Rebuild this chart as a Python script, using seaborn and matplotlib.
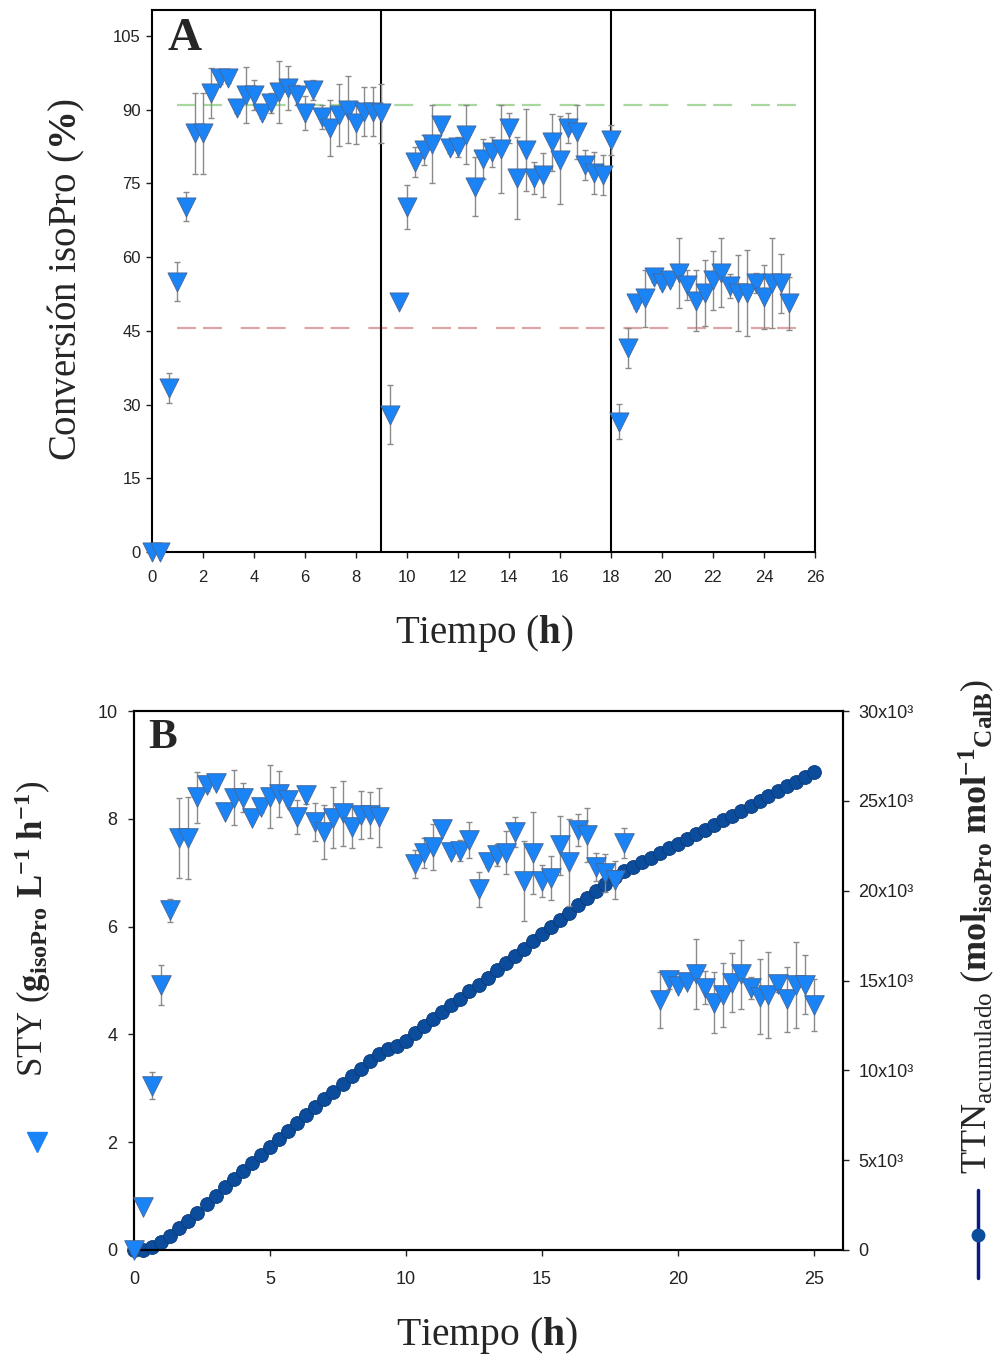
import numpy as np
import pandas as pd
import matplotlib
matplotlib.use("Agg")
import matplotlib.pyplot as plt
import seaborn as sns
from matplotlib.lines import Line2D
from matplotlib.ticker import FixedLocator, FixedFormatter

# ---------------- Panel A data: conversion (%) ----------------
tA1 = [0, 0.33, 0.67, 1, 1.33, 1.67, 2, 2.33, 2.67, 3, 3.33, 3.67, 4, 4.33,
       4.67, 5, 5.33, 5.67, 6, 6.33, 6.67, 7, 7.33, 7.67, 8, 8.33, 8.67, 9]
convA1 = [0, 0, 33.4, 55, 70.3, 85.2, 85.2, 93.4, 96.4, 96.4, 90.3, 93.0, 93.0, 89.3,
          91.4, 93.6, 94.4, 93.0, 89.3, 94.0, 88.5, 86.3, 88.9, 90.0, 87.3, 89.6, 89.6, 89.3]
errA1 = [0, 0, 3, 4, 3, 8.3, 8.3, 5, 1.2, 1, 1, 5.6, 3, 1,
         2, 6.3, 4.5, 2, 3.5, 2, 2.5, 5.7, 6.3, 6.8, 4.3, 5, 5, 6]

tA2 = [9.33, 9.67, 10, 10.33, 10.67, 11, 11.33, 11.67, 12, 12.33, 12.67, 13, 13.33,
       13.67, 14, 14.33, 14.67, 15, 15.33, 15.67, 16, 16.33, 16.67, 17, 17.33, 17.67, 18]
convA2 = [27.9, 50.9, 70.2, 79.4, 81.8, 83.0, 86.9, 82.2, 82.4, 84.9, 74.3, 80.0, 81.4,
          82.0, 86.3, 76.1, 81.8, 76.1, 76.7, 83.4, 79.8, 86.3, 85.5, 78.8, 77.1, 76.7, 83.8]
errA2 = [6, 0.8, 4.5, 3, 3, 8, 1, 1, 2, 6, 6, 4, 3,
         9, 3, 8.3, 8.4, 3.2, 4.4, 5.8, 9, 3, 5.5, 3, 4.3, 4, 3]

tA3 = [18.33, 18.67, 19, 19.33, 19.67, 20, 20.33, 20.67, 21, 21.33, 21.67, 22, 22.33,
       22.67, 23, 23.33, 23.67, 24, 24.33, 24.67, 25]
convA3 = [26.5, 41.5, 50.6, 51.6, 56.0, 54.7, 55.3, 56.8, 54.3, 51.1, 52.7, 55.3, 56.8,
          54.1, 52.7, 52.7, 54.7, 51.9, 54.7, 54.7, 50.6]
errA3 = [3.6, 4, 1, 5.8, 1, 1, 1, 7.2, 3, 6.2, 6.8, 6, 7,
         2.5, 7.7, 8.8, 2, 6.6, 9.2, 6, 5.4]

ref_high = 91.0
ref_low = 45.5
cycle_changes = [9, 18]

# ---------------- Panel B data: STY and TTN ----------------
tB1 = tA1
styB1 = [0, 0.8, 3.05, 4.92, 6.3, 7.64, 7.64, 8.4, 8.62, 8.66, 8.13, 8.39, 8.39, 8.02,
         8.22, 8.41, 8.46, 8.35, 8.03, 8.44, 7.94, 7.76, 8.02, 8.1, 7.85, 8.07, 8.07, 8.03]
errB1 = [0, 0, 0.25, 0.37, 0.22, 0.74, 0.76, 0.47, 0.1, 0.08, 0.08, 0.51, 0.27, 0.08,
         0.1, 0.58, 0.42, 0.1, 0.32, 0.16, 0.36, 0.5, 0.57, 0.61, 0.39, 0.45, 0.43, 0.55]

tB2 = [10.33, 10.67, 11, 11.33, 11.67, 12, 12.33, 12.67, 13, 13.33, 13.67, 14,
       14.33, 14.67, 15, 15.33, 15.67, 16, 16.33, 16.67, 17, 17.33, 17.67, 18]
styB2 = [7.17, 7.36, 7.48, 7.82, 7.39, 7.41, 7.61, 6.69, 7.19, 7.33, 7.37, 7.76,
         6.85, 7.37, 6.84, 6.9, 7.51, 7.19, 7.79, 7.7, 7.11, 6.99, 6.86, 7.55]
errB2 = [0.26, 0.28, 0.43, 0.08, 0.08, 0.2, 0.33, 0.33, 0.08, 0.2, 0.4, 0.28,
         0.74, 0.76, 0.3, 0.41, 0.55, 0.8, 0.3, 0.5, 0.26, 0.35, 0.35, 0.28]

tB3 = [19.33, 19.67, 20, 20.33, 20.67, 21, 21.33, 21.67, 22, 22.33, 22.67, 23,
       23.33, 23.67, 24, 24.33, 24.67, 25]
styB3 = [4.64, 5.01, 4.9, 4.98, 5.12, 4.87, 4.59, 4.73, 4.96, 5.12, 4.86, 4.7,
         4.73, 4.94, 4.65, 4.92, 4.92, 4.55]
errB3 = [0.52, 0.17, 0.1, 0.1, 0.65, 0.3, 0.56, 0.6, 0.55, 0.64, 0.2, 0.7,
         0.8, 0.15, 0.6, 0.8, 0.55, 0.48]

tTTN = tA1 + tA2 + tA3
ttn = [0, 0, 150, 420, 780, 1200, 1620, 2070, 2550, 3030, 3480, 3930, 4380, 4830,
       5280, 5730, 6180, 6630, 7080, 7530, 7980, 8400, 8820, 9240, 9660, 10080, 10500, 10920,
       11160, 11340, 11640, 12090, 12480, 12870, 13230, 13620, 13980, 14400, 14760, 15150,
       15570, 15960, 16380, 16770, 17190, 17580, 17970, 18390, 18780, 19200, 19590, 19980,
       20370, 20760, 21120, 21330, 21570, 21810, 22080, 22350, 22620, 22890, 23160, 23400,
       23670, 23910, 24180, 24450, 24720, 24990, 25260, 25530, 25800, 26070, 26340, 26610]

ttn_ticks = [0, 5000, 10000, 15000, 20000, 25000, 30000]
ttn_ticklabels = ["0", "5x10³", "10x10³", "15x10³", "20x10³", "25x10³", "30x10³"]

# ---------------- Style ----------------
sns.set_theme(style="ticks")
plt.rcParams['font.family'] = ['Liberation Sans', 'DejaVu Sans']
plt.rcParams['mathtext.fontset'] = 'custom'
plt.rcParams['mathtext.rm'] = 'Liberation Serif'
plt.rcParams['mathtext.bf'] = 'Liberation Serif:bold'
plt.rcParams['mathtext.it'] = 'Liberation Serif:italic'
plt.rcParams['mathtext.sf'] = 'Liberation Serif'

BLUE = '#1a84f6'
EDGE = '#4a6590'
NAVY = '#0b4d9c'
EBAR = '#8a8a8a'
SERIF = ['Liberation Serif', 'DejaVu Serif']

W, H = 1003, 1357
fig = plt.figure(figsize=(W / 100, H / 100), dpi=100)
fig.patch.set_facecolor('white')


def fx(px):
    return px / W


def fy(py):
    return 1 - py / H


axA = fig.add_axes([fx(152), fy(552), fx(815) - fx(152), fy(10) - fy(552)])
axB = fig.add_axes([fx(134), fy(1250), fx(843) - fx(134), fy(711) - fy(1250)])

# ---------------- Panel A ----------------
dfA = pd.DataFrame({'Tiempo': tA1 + tA2 + tA3,
                    'Conv': convA1 + convA2 + convA3,
                    'err': errA1 + errA2 + errA3})

axA.hlines(ref_high, 1.0, 26, colors='#a8d8a0', lw=1.6,
           linestyles=(0, (8.5, 3.2, 8.5, 8.5)), zorder=1)
axA.hlines(ref_low, 1.0, 26, colors='#dba5a5', lw=1.6,
           linestyles=(0, (8.5, 3.2, 8.5, 8.5)), zorder=1)
for xc in cycle_changes:
    axA.axvline(xc, color='black', lw=1.5, zorder=1)

axA.errorbar(dfA['Tiempo'], dfA['Conv'], yerr=dfA['err'], fmt='none',
             ecolor=EBAR, elinewidth=1.0, capsize=2.5, capthick=1.0, zorder=2)
sns.scatterplot(data=dfA, x='Tiempo', y='Conv', marker='v', s=190, color=BLUE,
                edgecolor=EDGE, linewidth=0.6, ax=axA, zorder=3, clip_on=False,
                legend=False)

axA.set_xlim(0, 26)
axA.set_ylim(0, 110.3)
axA.set_xticks(np.arange(0, 27, 2))
axA.set_yticks(np.arange(0, 106, 15))
axA.set_xlabel('')
axA.set_ylabel('')
for s in axA.spines.values():
    s.set_linewidth(1.5)
    s.set_color('black')
axA.tick_params(direction='out', length=4, width=1, labelsize=12, colors='#222222', pad=4)
axA.tick_params(axis='x', pad=9)
axA.text(0.024, 0.985, 'A', transform=axA.transAxes, ha='left', va='top',
         fontsize=34, fontweight='bold', family=SERIF)

fig.text(fx(66), fy(279), r'Conversión isoPro ($\mathbf{\%}$)', rotation=90,
         ha='center', va='center', fontsize=28, family=SERIF)
fig.text(fx(484), fy(633), r'Tiempo ($\mathbf{h}$)', ha='center', va='center',
         fontsize=28, family=SERIF)

# ---------------- Panel B ----------------
dfB = pd.DataFrame({'Tiempo': tB1 + tB2 + tB3,
                    'STY': styB1 + styB2 + styB3,
                    'err': errB1 + errB2 + errB3})
dfT = pd.DataFrame({'Tiempo': tTTN, 'TTN': ttn})

axB2 = axB.twinx()
sns.lineplot(data=dfT, x='Tiempo', y='TTN', color=NAVY, lw=1.2, marker='o',
             markersize=10, markerfacecolor=NAVY, markeredgecolor='#0a3a78',
             markeredgewidth=0.6, ax=axB2, clip_on=False, zorder=2)
axB2.set_ylim(0, 30000)
axB2.yaxis.set_major_locator(FixedLocator(ttn_ticks))
axB2.yaxis.set_major_formatter(FixedFormatter(ttn_ticklabels))
axB2.set_ylabel('')

axB.set_zorder(axB2.get_zorder() + 1)
axB.patch.set_visible(False)
axB.errorbar(dfB['Tiempo'], dfB['STY'], yerr=dfB['err'], fmt='none',
             ecolor=EBAR, elinewidth=1.0, capsize=2.5, capthick=1.0, zorder=2)
sns.scatterplot(data=dfB, x='Tiempo', y='STY', marker='v', s=200, color=BLUE,
                edgecolor=EDGE, linewidth=0.6, ax=axB, zorder=3, clip_on=False,
                legend=False)

axB.set_xlim(0, 26.07)
axB.set_ylim(0, 10)
axB.set_xticks(np.arange(0, 26, 5))
axB.set_yticks(np.arange(0, 11, 2))
axB.set_xlabel('')
axB.set_ylabel('')
for ax in (axB, axB2):
    for s in ax.spines.values():
        s.set_linewidth(1.5)
        s.set_color('black')
axB.tick_params(direction='out', length=4, width=1, labelsize=13, colors='#222222', pad=8)
axB.tick_params(axis='x', pad=11)
axB2.tick_params(direction='out', length=4, width=1, labelsize=13, colors='#222222', pad=7)
axB.text(0.02, 0.985, 'B', transform=axB.transAxes, ha='left', va='top',
         fontsize=31, fontweight='bold', family=SERIF)

fig.text(fx(33), fy(929),
         r'STY ($\mathbf{g}_{\mathbf{isoPro}}\ \mathbf{L}^{\mathbf{-1}}\ \mathbf{h}^{\mathbf{-1}}$)',
         rotation=90, ha='center', va='center', fontsize=25, family=SERIF)
fig.text(fx(487), fy(1335), r'Tiempo ($\mathbf{h}$)', ha='center', va='center',
         fontsize=28.5, family=SERIF)
fig.text(fx(977), fy(927),
         r'TTN$_{\mathrm{acumulado}}$ ($\mathbf{mol}_{\mathbf{isoPro}}\ \mathbf{mol}^{\mathbf{-1}}{}_{\mathbf{CalB}}$)',
         rotation=90, ha='center', va='center', fontsize=26, family=SERIF)

# legend-like symbols beside the axis titles
fig.add_artist(Line2D([fx(37)], [fy(1142)], marker='v', markersize=15, color=BLUE,
                      markeredgecolor=BLUE, transform=fig.transFigure))
fig.add_artist(Line2D([fx(978), fx(978)], [fy(1190), fy(1278)], color='#0a1a85',
                      lw=2.5, transform=fig.transFigure))
fig.add_artist(Line2D([fx(978)], [fy(1235)], marker='o', markersize=9, color=NAVY,
                      transform=fig.transFigure))

fig.savefig('out.png', dpi=100, facecolor='white')
